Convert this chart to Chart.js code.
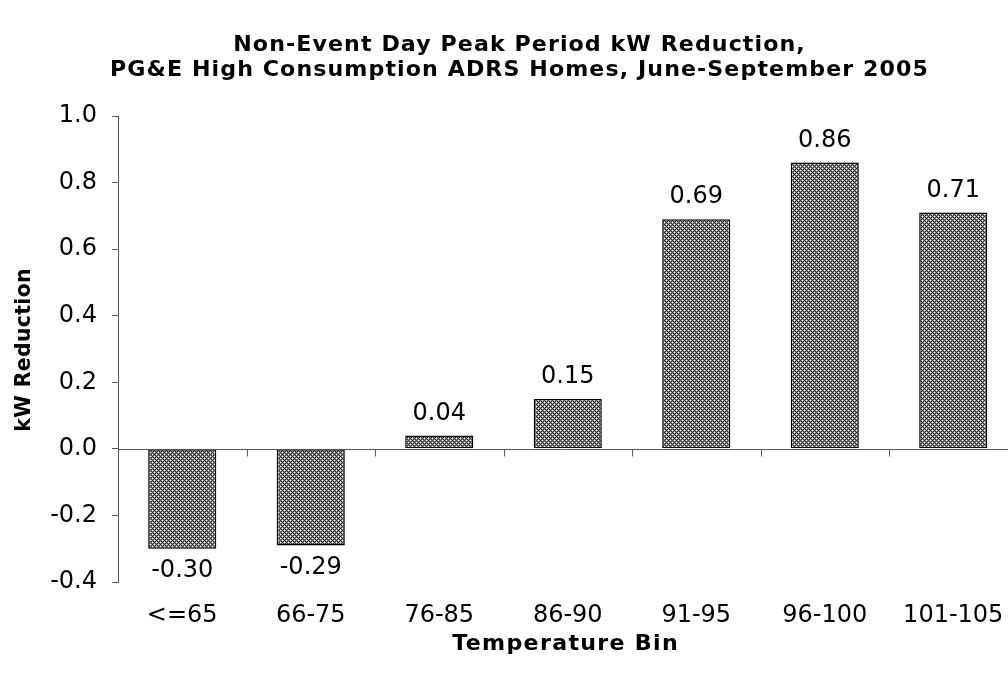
<!DOCTYPE html>
<html>
<head>
<meta charset="utf-8">
<script src="https://cdn.jsdelivr.net/npm/chart.js@4/dist/chart.umd.min.js"></script>
<style>
  html, body { margin: 0; padding: 0; background: #fff; overflow: hidden; }
  #wrap { width: 1040px; height: 675px; }
</style>
</head>
<body>
<div id="wrap"><canvas id="kwChart" width="1040" height="675"></canvas></div>
<script>
// Temperature bins and average kW reduction per bin
const bins = ["<=65", "66-75", "76-85", "86-90", "91-95", "96-100", "101-105"];
const kwReduction = [-0.30, -0.29, 0.04, 0.15, 0.69, 0.86, 0.71];
const yTicks = [-0.4, -0.2, 0.0, 0.2, 0.4, 0.6, 0.8, 1.0];
const titleLines = ["Non-Event Day Peak Period kW Reduction,", "PG&E High Consumption ADRS Homes, June-September 2005"];
const xTitle = "Temperature Bin";
const yTitle = "kW Reduction";

const axisGray = "#5a5a5a";
const boldFont = "bold 20.5px 'DejaVu Sans'";

// 4x4 diamond crosshatch tile used to fill the bars
function hatchPattern() {
    const t = document.createElement("canvas");
    t.width = 4; t.height = 4;
    const c = t.getContext("2d");
    for (let y = 0; y < 4; y++) {
        for (let x = 0; x < 4; x++) {
            let col = "#969696";
            if ((x - y + 4) % 4 === 0 || (x + y) % 4 === 0) col = "#2a2a2a";
            else if ((x === 2 && y === 0) || (x === 0 && y === 2)) col = "#ffffff";
            c.fillStyle = col;
            c.fillRect(x, y, 1, 1);
        }
    }
    return c.createPattern(t, "repeat");
}

// Bold text, optionally stretched with light tracking, centred on (x, y)
function wideText(ctx, text, x, y, spacing, stretch = 1.08) {
    ctx.save();
    ctx.translate(x, y);
    ctx.scale(stretch, 1);
    ctx.letterSpacing = spacing + "px";
    ctx.fillText(text, spacing / 2, 0);
    ctx.restore();
}

// Zero line with tick marks between the categories, value labels and titles
const zeroAxis = {
    id: "zeroAxis",
    afterDatasetsDraw(chart) {
        const { ctx, chartArea, scales: { x, y } } = chart;
        const y0 = Math.round(y.getPixelForValue(0)) + 0.5;
        const step = x.getPixelForValue(1) - x.getPixelForValue(0);
        ctx.save();
        ctx.strokeStyle = axisGray;
        ctx.lineWidth = 1;
        ctx.beginPath();
        ctx.moveTo(chartArea.left, y0);
        ctx.lineTo(chartArea.right, y0);
        for (let i = 1; i < bins.length; i++) {
            const bx = Math.round(x.getPixelForValue(i) - step / 2) + 0.5;
            ctx.moveTo(bx, y0);
            ctx.lineTo(bx, y0 + 7);
        }
        ctx.stroke();

        ctx.fillStyle = "#000";
        ctx.font = "24px 'DejaVu Sans'";
        ctx.textAlign = "center";
        ctx.textBaseline = "middle";
        chart.getDatasetMeta(0).data.forEach((bar, i) => {
            const v = kwReduction[i];
            const ty = v >= 0 ? bar.y - 22 : bar.y + 22;
            ctx.fillText(v.toFixed(2), bar.x, ty);
        });

        ctx.font = boldFont;
        wideText(ctx, titleLines[0], 519, 46, 1.0);
        wideText(ctx, titleLines[1], 519, 71, 1.0);
        wideText(ctx, xTitle, 565, 645, 1.2);
        ctx.translate(25, 350);
        ctx.rotate(-Math.PI / 2);
        wideText(ctx, yTitle, 0, 0, 0.3, 1.0);
        ctx.restore();
    }
};

new Chart(document.getElementById("kwChart"), {
    type: "bar",
    data: {
        labels: bins,
        datasets: [{
            data: kwReduction,
            backgroundColor: hatchPattern(),
            borderColor: "#000",
            borderWidth: 1.5,
            borderSkipped: false,
            categoryPercentage: 1.0,
            barPercentage: 0.53
        }]
    },
    options: {
        responsive: false,
        animation: false,
        layout: { padding: { left: 0, right: 22.5, top: 116, bottom: 0 } },
        plugins: {
            legend: { display: false },
            tooltip: { enabled: false },
            title: { display: false }
        },
        scales: {
            x: {
                grid: { display: false, drawTicks: false },
                border: { display: false },
                ticks: { color: "#000", font: { family: "'DejaVu Sans'", size: 24 }, padding: 19, maxRotation: 0 },
                afterFit(s) { s.height = 93; }
            },
            y: {
                min: -0.4,
                max: 1.0,
                afterBuildTicks(s) { s.ticks = yTicks.map(v => ({ value: v })); },
                grid: { drawOnChartArea: false, drawTicks: true, tickLength: 6, color: axisGray },
                border: { display: true, color: axisGray, width: 1 },
                ticks: {
                    color: "#000",
                    font: { family: "'DejaVu Sans'", size: 24 },
                    padding: 15,
                    callback: v => v.toFixed(1)
                },
                afterFit(s) { s.width = 118; }
            }
        }
    },
    plugins: [zeroAxis]
});
</script>
</body>
</html>
